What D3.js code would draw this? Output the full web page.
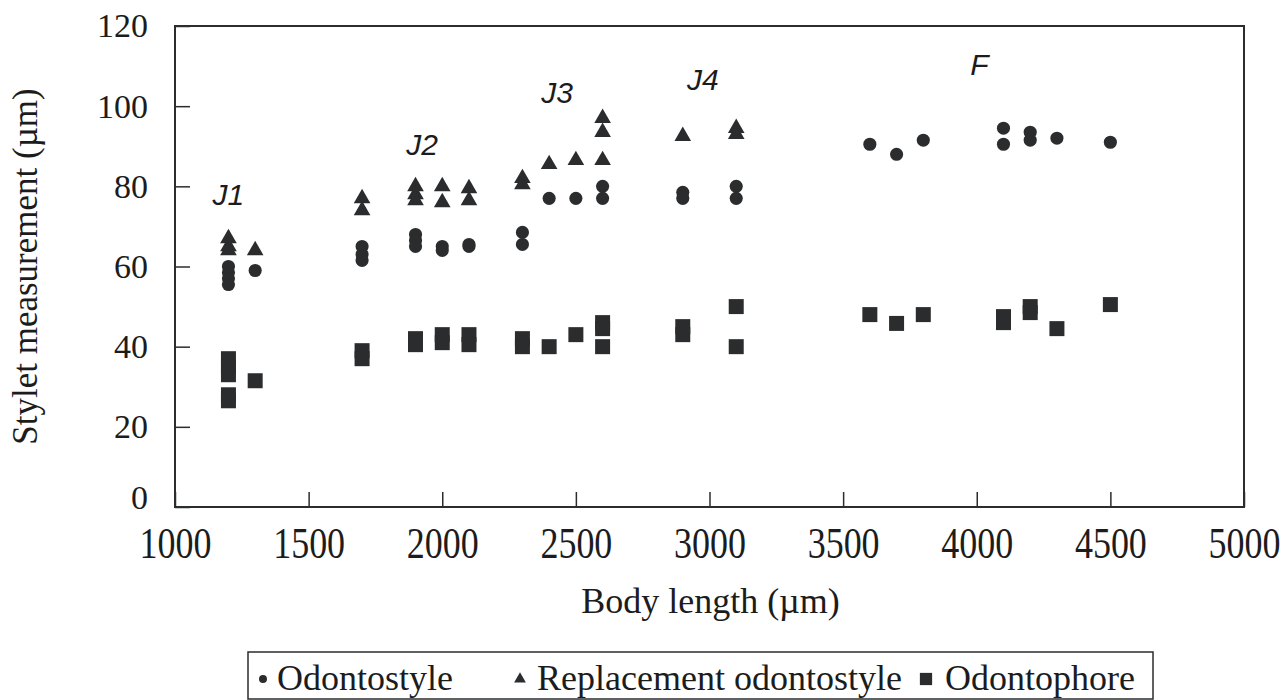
<!DOCTYPE html>
<html>
<head>
<meta charset="utf-8">
<script src="https://cdn.jsdelivr.net/npm/d3@7"></script>
<style>
  body { margin: 0; background: #fff; }
  svg text { fill: #1c1c1c; }
</style>
</head>
<body>
<div id="chart"></div>
<script>
// body length (µm) of each measured group
const bodyLengths = [1200, 1300, 1700, 1900, 2000, 2100, 2300, 2400, 2500, 2600,
  2900, 3100, 3600, 3700, 3800, 4100, 4200, 4300, 4500];

// stylet measurements (µm) at each body length
const odontostyle = [
  [60, 58.5, 57, 55.5], [59], [65, 63, 61.5], [68, 66.5, 65], [65, 64], [65.5, 65],
  [68.5, 65.5], [77], [77], [80, 77], [78.5, 77], [80, 77],
  [90.5], [88], [91.5], [94.5, 90.5], [93.5, 91.5], [92], [91]
];
const replacementOdontostyle = [
  [67, 65, 64], [64], [77, 74], [80, 78, 76.5], [80, 76], [79.5, 76.5],
  [82, 80.5], [85.5], [86.5], [97, 93.5, 86.5], [92.5], [94.5, 93],
  [], [], [], [], [], [], []
];
const odontophore = [
  [37, 35, 33, 28, 26.5], [31.5], [39, 37], [42, 40.5], [43, 41], [43, 40.5],
  [42, 40], [40], [43], [46, 44.5, 40], [45, 43], [50, 40],
  [48], [45.8], [48], [47.5, 46], [50, 48.5], [44.5], [50.5]
];

// developmental stage annotations
const stageLabels = ['J1', 'J2', 'J3', 'J4', 'F'];
const stageX = [1200, 1925, 2430, 2975, 4010];
const stageY = [75.3, 87.8, 100.8, 104, 107.8];

const xTicks = [1000, 1500, 2000, 2500, 3000, 3500, 4000, 4500, 5000];
const yTicks = [0, 20, 40, 60, 80, 100, 120];

const width = 1282;
const height = 700;
const margin = { top: 26, right: 38, bottom: 193, left: 175 };
const ink = '#2a2c2e';
const serif = '"Liberation Serif", "Times New Roman", serif';

const svg = d3.select('#chart').append('svg')
  .attr('width', width)
  .attr('height', height);

svg.append('rect').attr('width', width).attr('height', height).attr('fill', '#fff');

const x = d3.scaleLinear().domain([1000, 5000]).range([margin.left, width - margin.right]);
const y = d3.scaleLinear().domain([0, 120]).range([height - margin.bottom, margin.top]);

// x axis, ticks pointing inward
const xAxis = svg.append('g')
  .attr('transform', `translate(0,${y(0)})`)
  .call(d3.axisBottom(x).tickValues(xTicks).tickSizeInner(-15).tickSizeOuter(0).tickFormat(d3.format('d')));
xAxis.select('.domain').remove();
xAxis.selectAll('.tick line').attr('stroke', ink).attr('stroke-width', 1.5);
xAxis.selectAll('.tick text')
  .attr('y', 0).attr('dy', 0)
  .attr('transform', 'translate(0,51) scale(1,1.25)')
  .attr('font-family', serif)
  .attr('font-size', 36);

// y axis
const yAxis = svg.append('g')
  .attr('transform', `translate(${x(1000)},0)`)
  .call(d3.axisLeft(y).tickValues(yTicks).tickSizeInner(-15).tickSizeOuter(0).tickPadding(27));
yAxis.select('.domain').remove();
yAxis.selectAll('.tick line').attr('stroke', ink).attr('stroke-width', 1.5);
yAxis.selectAll('.tick text')
  .attr('font-family', serif)
  .attr('font-size', 34)
  .attr('y', d => (d === 0 ? -9 : 0));

// plot frame
svg.append('rect')
  .attr('x', x(1000)).attr('y', y(120))
  .attr('width', x(5000) - x(1000)).attr('height', y(0) - y(120))
  .attr('fill', 'none').attr('stroke', ink).attr('stroke-width', 2);

// axis titles
svg.append('text')
  .attr('x', (x(1000) + x(5000)) / 2 + 1).attr('y', 613)
  .attr('text-anchor', 'middle')
  .attr('font-family', serif).attr('font-size', 36)
  .text('Body length (µm)');

svg.append('text')
  .attr('transform', `translate(37,${(y(0) + y(120)) / 2}) rotate(-90)`)
  .attr('text-anchor', 'middle')
  .attr('font-family', serif).attr('font-size', 35)
  .text('Stylet measurement (µm)');

// points
const series = [
  { values: odontostyle, shape: d3.symbolCircle, size: 135 },
  { values: replacementOdontostyle, shape: d3.symbolTriangle, size: 120 },
  { values: odontophore, shape: d3.symbolSquare, size: 225 }
];

series.forEach(s => {
  const pts = [];
  bodyLengths.forEach((bl, i) => s.values[i].forEach(v => pts.push([bl, v])));
  svg.append('g').selectAll('path')
    .data(pts)
    .join('path')
    .attr('transform', d => `translate(${x(d[0])},${y(d[1])})`)
    .attr('d', d3.symbol(s.shape, s.size))
    .attr('fill', ink);
});

// stage labels
svg.append('g').selectAll('text')
  .data(stageLabels)
  .join('text')
  .attr('x', (d, i) => x(stageX[i]))
  .attr('y', (d, i) => y(stageY[i]))
  .attr('text-anchor', 'middle')
  .attr('font-family', '"Liberation Sans", Arial, sans-serif')
  .attr('font-style', 'italic')
  .attr('font-size', 30)
  .text(d => d);

// legend
const legend = svg.append('g');
legend.append('rect')
  .attr('x', 248).attr('y', 652).attr('width', 905).attr('height', 47)
  .attr('fill', 'none').attr('stroke', ink).attr('stroke-width', 1.5);

const legendItems = [
  { label: 'Odontostyle', shape: d3.symbolCircle, size: 50, mx: 263, tx: 277 },
  { label: 'Replacement odontostyle', shape: d3.symbolTriangle, size: 60, mx: 520, tx: 537 },
  { label: 'Odontophore', shape: d3.symbolSquare, size: 150, mx: 926, tx: 945 }
];
legendItems.forEach(it => {
  legend.append('path')
    .attr('transform', `translate(${it.mx},679)`)
    .attr('d', d3.symbol(it.shape, it.size))
    .attr('fill', ink);
  legend.append('text')
    .attr('x', it.tx).attr('y', 690)
    .attr('font-family', serif).attr('font-size', 36)
    .text(it.label);
});
</script>
</body>
</html>
